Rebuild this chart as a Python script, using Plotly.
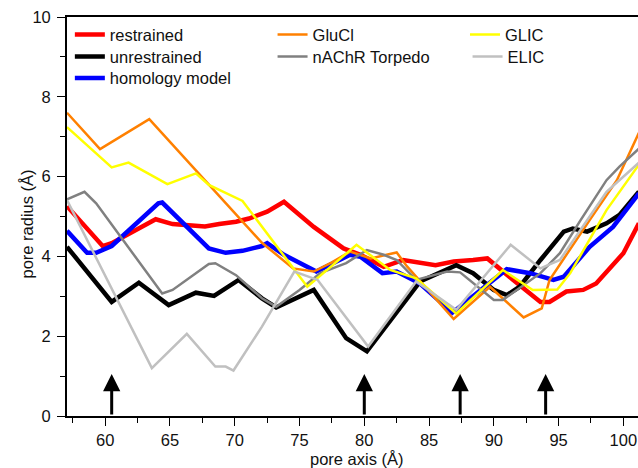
import plotly.graph_objects as go

# ---- data ----
restrained_x = [57.05, 59.8, 60.5, 63.9, 65.2, 66.7, 67.7, 68.8, 70.1, 71.1, 72.1, 72.5, 73.8, 76.1, 78.4, 79.7, 81.5, 83.0, 85.5, 86.9, 88.4, 89.5, 91.5, 93.6, 94.3, 95.6, 96.9, 97.9, 100.0, 101.2]
restrained_y = [5.26, 4.26, 4.33, 4.93, 4.81, 4.79, 4.75, 4.81, 4.87, 4.95, 5.06, 5.12, 5.37, 4.74, 4.20, 4.04, 3.74, 3.91, 3.78, 3.87, 3.91, 3.95, 3.41, 2.86, 2.86, 3.12, 3.16, 3.32, 4.08, 4.83]

unrestrained_x = [57.05, 60.5, 62.6, 64.9, 67.0, 68.4, 70.3, 72.1, 73.2, 76.1, 78.6, 80.2, 84.3, 87.1, 88.4, 90.0, 91.0, 92.0, 93.6, 95.4, 96.1, 97.2, 98.7, 99.7, 101.2]
unrestrained_y = [4.24, 2.86, 3.34, 2.78, 3.09, 3.01, 3.41, 2.95, 2.72, 3.16, 1.95, 1.62, 3.37, 3.78, 3.58, 3.16, 3.03, 3.24, 3.91, 4.62, 4.70, 4.62, 4.83, 5.04, 5.62]

homology_x = [57.05, 58.6, 59.3, 60.5, 64.1, 64.4, 68.0, 69.3, 70.6, 72.1, 72.5, 73.8, 76.3, 78.9, 79.7, 81.4, 82.5, 84.3, 86.8, 91.0, 92.8, 94.6, 95.4, 97.4, 99.2, 101.2]
homology_y = [4.64, 4.09, 4.09, 4.26, 5.33, 5.35, 4.20, 4.09, 4.14, 4.26, 4.33, 4.04, 3.62, 4.04, 3.99, 3.58, 3.62, 3.32, 2.59, 3.68, 3.58, 3.41, 3.49, 4.24, 4.74, 5.58]

glucl_x = [57.05, 59.6, 63.4, 72.1, 74.5, 76.1, 77.5, 78.9, 80.5, 82.5, 83.3, 86.9, 89.7, 92.3, 93.7, 94.3, 97.4, 99.5, 101.2]
glucl_y = [7.60, 6.69, 7.44, 4.34, 3.70, 3.62, 3.85, 4.12, 3.95, 4.10, 3.75, 2.43, 3.24, 2.47, 2.70, 3.41, 4.91, 5.91, 7.10]

nachr_x = [57.05, 58.4, 59.3, 64.4, 65.2, 68.0, 68.5, 70.1, 72.1, 73.2, 75.0, 76.6, 78.6, 80.2, 81.5, 82.5, 84.0, 86.4, 87.4, 90.0, 90.7, 93.6, 95.1, 96.7, 98.7, 99.7, 101.2]
nachr_y = [5.43, 5.62, 5.33, 3.07, 3.16, 3.81, 3.83, 3.53, 2.95, 2.74, 3.16, 3.58, 3.83, 4.16, 4.04, 3.91, 3.41, 3.62, 3.60, 2.91, 2.91, 3.58, 4.08, 4.91, 5.91, 6.25, 6.70]

glic_x = [57.05, 60.5, 61.8, 64.8, 67.0, 68.0, 70.6, 72.1, 75.6, 79.4, 82.0, 84.0, 87.1, 90.7, 93.0, 94.9, 95.9, 98.7, 101.2]
glic_y = [7.24, 6.23, 6.35, 5.81, 6.08, 5.79, 5.39, 4.74, 3.24, 4.29, 3.66, 3.45, 2.57, 3.66, 3.16, 3.17, 3.58, 5.16, 6.30]

elic_x = [57.05, 63.6, 66.3, 68.5, 69.3, 69.9, 72.1, 74.6, 76.4, 80.3, 84.0, 87.1, 91.3, 93.6, 95.1, 96.7, 98.7, 101.2]
elic_y = [5.41, 1.20, 2.06, 1.24, 1.24, 1.14, 2.24, 3.62, 3.41, 1.74, 3.37, 2.66, 4.29, 3.70, 3.91, 4.66, 5.62, 6.35]

arrow_x = [60.5, 80.0, 87.4, 94.0]
arrow_tip = 1.05

x_ticks = [60, 65, 70, 75, 80, 85, 90, 95, 100]
y_ticks = [0, 2, 4, 6, 8, 10]

x_title = "pore axis (Å)"
y_title = "pore radius (Å)"

FONT = "Liberation Sans, Arial, sans-serif"
FS = 16.5

# name, x, y, colour, width, legend id, legend x (paper), legend y (paper)
series = [
    ("restrained", restrained_x, restrained_y, "#FF0000", 4.5, "legend", 0.005, 0.9556),
    ("unrestrained", unrestrained_x, unrestrained_y, "#000000", 4.5, "legend2", 0.005, 0.9005),
    ("homology model", homology_x, homology_y, "#0000FF", 4.5, "legend3", 0.005, 0.8464),
    ("GluCl", glucl_x, glucl_y, "#FF8000", 2.5, "legend4", 0.36, 0.9556),
    ("nAChR Torpedo", nachr_x, nachr_y, "#808080", 2.5, "legend5", 0.36, 0.9005),
    ("GLIC", glic_x, glic_y, "#FFFF00", 2.5, "legend6", 0.697, 0.9556),
    ("ELIC", elic_x, elic_y, "#C0C0C0", 2.5, "legend7", 0.7015, 0.9005),
]

fig = go.Figure()
legends = {}
for name, xs, ys, col, w, leg, lx, ly in series:
    fig.add_trace(go.Scatter(x=xs, y=ys, mode="lines", name=name,
                             line=dict(color=col, width=w), legend=leg))
    legends[leg] = dict(x=lx, y=ly, xanchor="left", yanchor="middle",
                        font=dict(family=FONT, size=FS, color="#111"),
                        bgcolor="rgba(0,0,0,0)", orientation="v")

for ax_ in arrow_x:
    fig.add_annotation(x=ax_, y=arrow_tip, ax=ax_, ay=0, xref="x", yref="y",
                       axref="x", ayref="y", showarrow=True, arrowhead=2,
                       arrowsize=1.15, arrowwidth=3, arrowcolor="black",
                       standoff=0, startstandoff=0, text="")

# axis titles placed as annotations for exact positioning
fig.add_annotation(text=x_title, xref="paper", yref="paper", x=0.508, y=-0.1078,
                   xanchor="center", yanchor="middle", showarrow=False,
                   font=dict(family=FONT, size=FS, color="#111"))
fig.add_annotation(text=y_title, xref="paper", yref="paper", x=-0.070, y=0.48,
                   xanchor="center", yanchor="middle", showarrow=False,
                   textangle=-90, font=dict(family=FONT, size=FS, color="#111"))

fig.update_layout(
    width=638, height=468,
    margin=dict(l=67, r=0, t=17, b=52),
    plot_bgcolor="white", paper_bgcolor="white",
    font=dict(family=FONT, size=FS, color="#111"),
    showlegend=True,
    xaxis=dict(range=[57.05, 101.13], tickmode="array", tickvals=x_ticks,
               ticks="outside", ticklen=8, tickwidth=1.3, tickcolor="black",
               minor=dict(dtick=2.5, tick0=57.5, ticks="outside", ticklen=5,
                          tickwidth=1.3, tickcolor="black"),
               showline=True, linecolor="black", linewidth=1.8, mirror=True,
               showgrid=False, zeroline=False,
               tickfont=dict(family=FONT, size=FS, color="#111")),
    yaxis=dict(range=[0, 10], tickmode="array", tickvals=y_ticks,
               ticks="outside", ticklen=8, tickwidth=1.3, tickcolor="black",
               minor=dict(dtick=1, tick0=0, ticks="outside", ticklen=5,
                          tickwidth=1.3, tickcolor="black"),
               showline=True, linecolor="black", linewidth=1.8, mirror=False,
               showgrid=False, zeroline=False, ticklabelstandoff=3,
               tickfont=dict(family=FONT, size=FS, color="#111")),
)
fig.update_layout(**legends)

fig.write_html("out.html")
